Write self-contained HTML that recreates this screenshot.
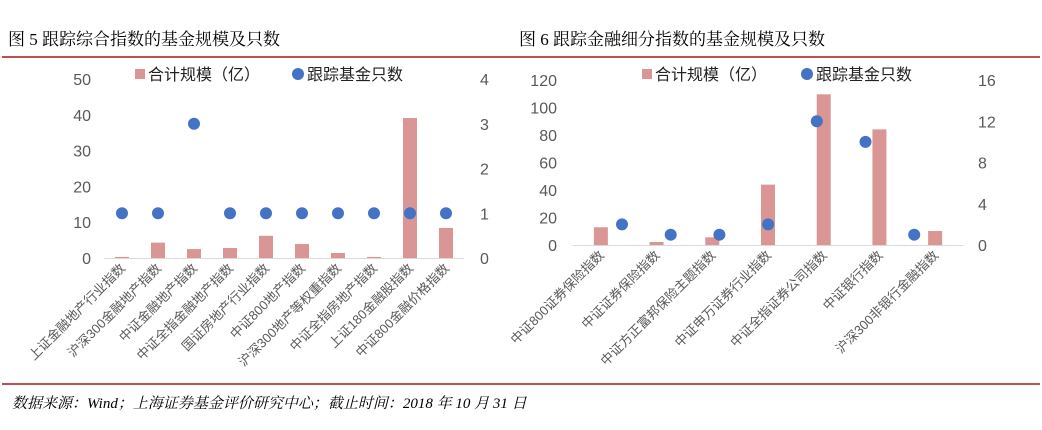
<!DOCTYPE html>
<html><head><meta charset="utf-8"><style>
body{margin:0;width:1042px;height:430px;background:#fff;overflow:hidden}
svg{display:block}
.t{font-family:"Liberation Sans","Noto Sans CJK SC",sans-serif;fill:#595959;font-size:16px}
.c{font-family:"Liberation Sans","Noto Sans CJK SC",sans-serif;fill:#595959;font-size:13px}
.h{font-family:"Liberation Serif","Noto Serif CJK SC",serif;fill:#000;font-size:17px}
.lg{font-family:"Liberation Sans","Noto Sans CJK SC",sans-serif;fill:#222;font-size:16px}
</style></head><body>
<svg id="s" width="1042" height="430">
<text class="h" x="8" y="45">图 5 跟踪综合指数的基金规模及只数</text>
<text class="h" x="519" y="45">图 6 跟踪金融细分指数的基金规模及只数</text>
<rect x="2" y="56" width="1038" height="2" fill="#c0504d"/>
<rect x="2" y="383" width="1038" height="2" fill="#c0504d"/>
<text x="12" y="408" style="font-family:'Liberation Serif','Noto Serif CJK SC',serif;font-style:italic;font-size:15px" fill="#000">数据来源：Wind；上海证券基金评价研究中心；截止时间：2018 年 10 月 31 日</text>
<g id="g1"></g><g id="g2"></g>
</svg>
<script>
const cats1=["上证金融地产行业指数","沪深300金融地产指数","中证金融地产指数","中证全指金融地产指数","国证房地产行业指数","中证800地产指数","沪深300地产等权重指数","中证全指房地产指数","上证180金融股指数","中证800金融价格指数"];
const size1=[0.3,4.3,2.5,2.8,6.2,3.9,1.4,0.3,39.1,8.4];
const count1=[1,1,3,1,1,1,1,1,1,1];
const ticksL1=[0,10,20,30,40,50];
const ticksR1=[0,1,2,3,4];
const cats2=["中证800证券保险指数","中证证券保险指数","中证方正富邦保险主题指数","中证申万证券行业指数","中证全指证券公司指数","中证银行指数","沪深300非银行金融指数"];
const size2=[12.9,2.2,5.6,43.9,109.6,84.1,10.2];
const count2=[2,1,1,2,12,10,1];
const ticksL2=[0,20,40,60,80,100,120];
const ticksR2=[0,4,8,12,16];
const NS="http://www.w3.org/2000/svg";
function mk(p,t,a){const e=document.createElementNS(NS,t);for(const k in a)e.setAttribute(k,a[k]);p.appendChild(e);return e;}
function draw(g,cfg){
 const yL=v=>cfg.base-(v/cfg.maxL)*(cfg.base-cfg.top);
 const yR=v=>cfg.base-(v/cfg.maxR)*(cfg.base-cfg.top);
 const n=cfg.cats.length, step=(cfg.x1-cfg.x0)/n;
 const xc=i=>cfg.x0+step*(i+0.5);
 cfg.tL.forEach(v=>{const t=mk(g,'text',{class:'t',x:cfg.lx,y:yL(v)+6,'text-anchor':'end'});t.textContent=v;
  
  });
 cfg.tR.forEach(v=>{const t=mk(g,'text',{class:'t',x:cfg.rx,y:yR(v)+6});t.textContent=v;
  
  });
 const ax=mk(g,'line',{x1:cfg.x0,x2:cfg.x1,y1:cfg.base+0.5,y2:cfg.base+0.5,stroke:'#d9d9d9'});
 
 
 cfg.size.forEach((v,i)=>{const b=mk(g,'rect',{x:xc(i)-7,y:yL(v),width:14,height:cfg.base-yL(v),fill:'#d99694'});
  
  });
 cfg.count.forEach((v,i)=>{const dx=cfg.dotX?cfg.dotX(i):xc(i);const c=mk(g,'circle',{cx:dx,cy:yR(v),r:6,fill:'#4472c4'});
  
  });
 cfg.cats.forEach((s,i)=>{const t=mk(g,'text',{class:'c','text-anchor':'end',transform:`translate(${xc(i)+4},${cfg.base+11}) rotate(-45)`});t.textContent=s;
  
  });
 const r=mk(g,'rect',{x:cfg.lgx,y:69,width:10,height:10,fill:'#d99694'});
 
 
 const t1=mk(g,'text',{class:'lg',x:cfg.lgx+13,y:80});t1.textContent='合计规模（亿）';
 
 
 const d=mk(g,'circle',{cx:cfg.lgd,cy:74,r:6,fill:'#4472c4'});
 
 
 const t2=mk(g,'text',{class:'lg',x:cfg.lgd+9,y:80});t2.textContent='跟踪基金只数';
 
 
}
draw(document.getElementById('g1'),{cats:cats1,size:size1,count:count1,tL:ticksL1,tR:ticksR1,maxL:50,maxR:4,base:258,top:79,x0:104,x1:464,lx:91,rx:480,lgx:135,lgd:298});
draw(document.getElementById('g2'),{cats:cats2,size:size2,count:count2,tL:ticksL2,tR:ticksR2,maxL:120,maxR:16,base:245,top:80,x0:573,x1:963,lx:557,rx:978,lgx:642,lgd:807,dotX:i=>622+i*48.7});
</script>
</body></html>
